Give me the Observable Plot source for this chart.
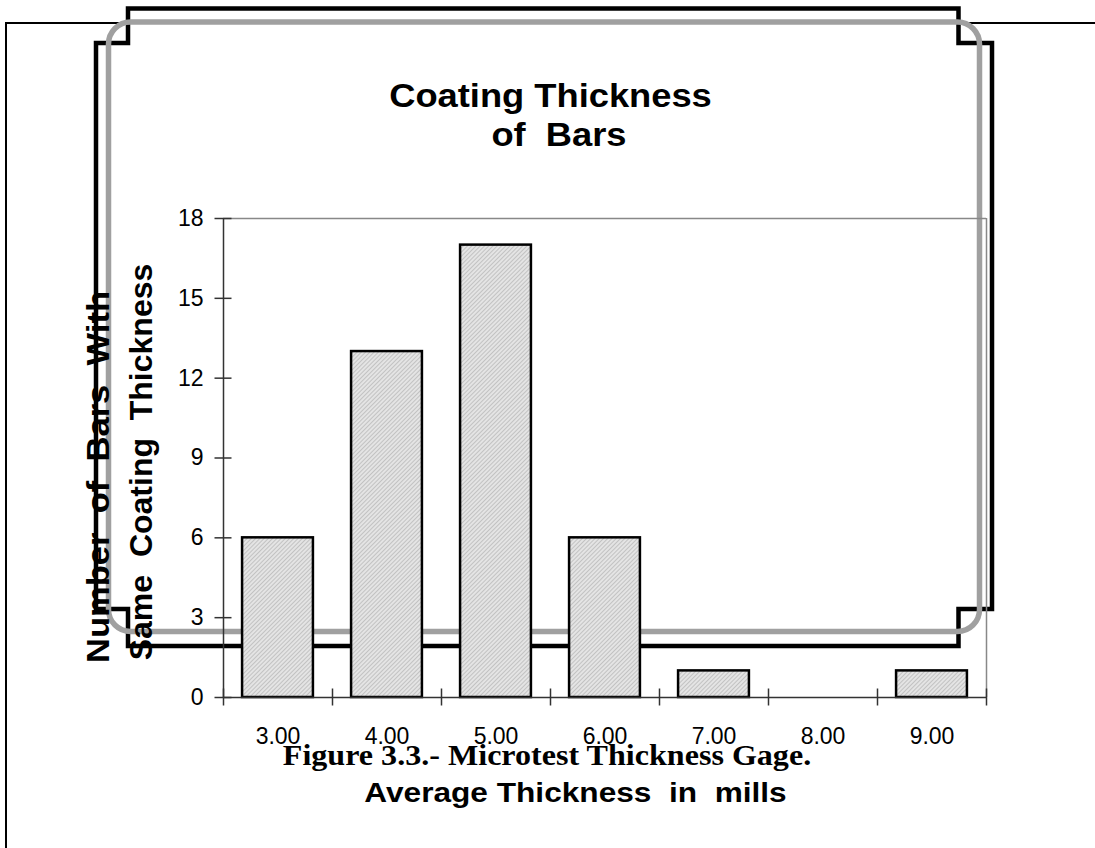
<!DOCTYPE html>
<html><head><meta charset="utf-8">
<script src="https://cdn.jsdelivr.net/npm/d3@7"></script>
<script src="https://cdn.jsdelivr.net/npm/@observablehq/plot@0.6"></script>
<style>
html,body{margin:0;padding:0;background:#fff;}
#wrap{position:relative;width:1095px;height:848px;overflow:hidden;}
#wrap svg{position:absolute;left:0;top:0;}
</style></head><body><div id="wrap"></div>
<script>
// ---- data ----
const thickness = [3, 4, 5, 6, 7, 8, 9];
const counts = [6, 13, 17, 6, 1, 0, 1];
const yTicks = [0, 3, 6, 9, 12, 15, 18];
const tickLabels = ["3.00", "4.00", "5.00", "6.00", "7.00", "8.00", "9.00"];
const titleLines = ["Coating Thickness", "of  Bars"];
const yLabelLines = ["Number  of  Bars  With", "Same  Coating  Thickness"];
const xLabel = "Average Thickness  in  mills";
const caption = "Figure 3.3.- Microtest Thickness Gage.";

const data = thickness.map((t, i) => ({t, n: counts[i]}));
const halfBar = 0.325; // half bar width in category units
const edges = [...thickness.map(t => t - 0.5), thickness[thickness.length - 1] + 0.5];

const W = 1095, H = 848;
const wrap = document.getElementById("wrap");
const NS = "http://www.w3.org/2000/svg";
const sans = "'Liberation Sans', Arial, Helvetica, sans-serif";
const serif = "'Liberation Serif', 'Times New Roman', serif";

// ---- decorative frames (below chart) ----
const deco = d3.create("svg").attr("width", W).attr("height", H);
deco.append("path").attr("d", `M6,${H}V23H${W}`).attr("fill", "none").attr("stroke", "#000").attr("stroke-width", 2);
deco.append("path")
  .attr("d", "M128,8.5H958.5V43H992V609H958.5V646H128V609H96V43H128Z")
  .attr("fill", "none").attr("stroke", "#000").attr("stroke-width", 4.5);
deco.append("rect").attr("x", 108.5).attr("y", 22).attr("width", 871).attr("height", 609.5)
  .attr("rx", 22).attr("fill", "none").attr("stroke", "#a0a0a0").attr("stroke-width", 5.5);
wrap.appendChild(deco.node());

// ---- chart ----
const chart = Plot.plot({
  width: W, height: H,
  marginLeft: 223, marginRight: 109, marginTop: 218, marginBottom: 151,
  style: {fontFamily: sans, fontSize: "23px", background: "transparent", color: "#000", overflow: "visible"},
  x: {domain: [edges[0], edges[edges.length - 1]], axis: null, label: null},
  y: {domain: [0, 18], axis: null, label: null},
  marks: [
    Plot.ruleY([18], {stroke: "#888", strokeWidth: 1.5}),
    Plot.ruleX([edges[edges.length - 1]], {stroke: "#888", strokeWidth: 1.5}),
    Plot.rectY(data.filter(d => d.n > 0), {
      x1: d => d.t - halfBar, x2: d => d.t + halfBar, y1: 0, y2: "n",
      fill: "url(#hatch)", stroke: "#000", strokeWidth: 2.5
    }),
    Plot.ruleX([edges[0]], {stroke: "#333", strokeWidth: 1.5}),
    Plot.ruleY([0], {stroke: "#333", strokeWidth: 1.5}),
    Plot.axisY({ticks: yTicks, tickSize: 17, dx: 8.5, tickFormat: () => "", stroke: "#333", strokeWidth: 1.5, label: null}),
    Plot.axisY({ticks: yTicks, tickSize: 0, tickPadding: 20, fontSize: 23, tickFormat: d => String(d), label: null}),
    Plot.axisX({ticks: edges, tickSize: 17, dy: -8.5, tickFormat: () => "", stroke: "#333", strokeWidth: 1.5, label: null}),
    Plot.axisX({ticks: thickness, tickSize: 0, tickPadding: 30, fontSize: 23, tickFormat: d => tickLabels[thickness.indexOf(d)], label: null})
  ]
});
d3.select(chart).selectAll("text").attr("font-size", 23).style("font-size", "23px").attr("fill", "#000");
const defs = document.createElementNS(NS, "defs");
defs.innerHTML = `<pattern id="hatch" width="3" height="3" patternUnits="userSpaceOnUse" patternTransform="rotate(45)"><rect width="3" height="3" fill="#e4e4e4"/><line x1="0" y1="0" x2="0" y2="3" stroke="#ababab" stroke-width="1.2"/></pattern>`;
chart.prepend(defs);
wrap.appendChild(chart);

// ---- texts (above chart) ----
const txt = d3.create("svg").attr("width", W).attr("height", H);
function addText(str, x, y, size, family, sx, rot) {
  txt.append("text")
    .attr("transform", `translate(${x},${y})` + (rot ? ` rotate(${rot})` : "") + ` scale(${sx},1)`)
    .attr("text-anchor", "middle")
    .attr("font-family", family).attr("font-weight", "bold").attr("font-size", size)
    .attr("fill", "#000").style("white-space", "pre")
    .text(str);
}
addText(titleLines[0], 550.5, 107, 33, sans, 1.1, 0);
addText(titleLines[1], 559, 146, 33, sans, 1.1, 0);
addText(yLabelLines[0], 109, 477, 32, sans, 1.08, -90);
addText(yLabelLines[1], 152, 462, 32, sans, 1.0, -90);
addText(caption, 547, 765, 30, serif, 1.07, 0);
addText(xLabel, 575.5, 802, 28, sans, 1.13, 0);
wrap.appendChild(txt.node());
</script></body></html>
